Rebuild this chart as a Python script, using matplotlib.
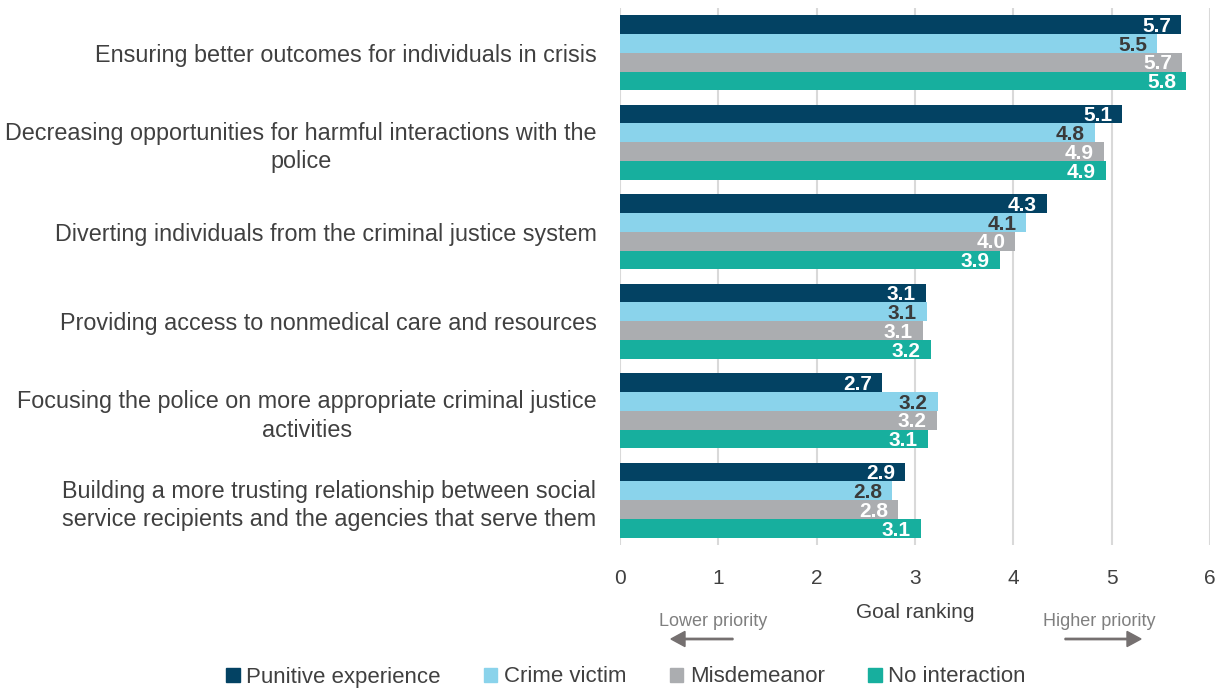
import numpy as np
import matplotlib
matplotlib.use("Agg")
import matplotlib.pyplot as plt
from matplotlib.patches import Patch

plt.rcParams['font.family'] = ['Liberation Sans', 'DejaVu Sans']

categories = [
    "Ensuring better outcomes for individuals in crisis",
    "Decreasing opportunities for harmful interactions with the\npolice",
    "Diverting individuals from the criminal justice system",
    "Providing access to nonmedical care and resources",
    "Focusing the police on more appropriate criminal justice\nactivities",
    "Building a more trusting relationship between social\nservice recipients and the agencies that serve them",
]
series = ["Punitive experience", "Crime victim", "Misdemeanor", "No interaction"]
punitive = [5.71, 5.11, 4.34, 3.11, 2.66, 2.90]
crime_victim = [5.46, 4.83, 4.13, 3.12, 3.23, 2.77]
misdemeanor = [5.72, 4.92, 4.02, 3.08, 3.22, 2.83]
no_interaction = [5.76, 4.94, 3.86, 3.16, 3.13, 3.06]

values = [punitive, crime_victim, misdemeanor, no_interaction]
colors = ["#034263", "#8AD3EB", "#ABADB0", "#17AF9E"]
label_colors = ["white", "#3a3a3a", "white", "white"]

fig = plt.figure(figsize=(12.21, 6.89), dpi=100)
ax = fig.add_axes([620 / 1221, 1 - 545 / 689, 590 / 1221, 537 / 689])

bar_h = 0.2095
y = np.arange(len(categories))
for i, (vals, col) in enumerate(zip(values, colors)):
    pos = y + (i - 1.5) * bar_h
    ax.barh(pos, vals, height=bar_h, color=col, zorder=3)
    for p, v in zip(pos, vals):
        ax.text(v - 0.1, p + 0.02, f"{v:.1f}", ha='right', va='center',
                color=label_colors[i], fontsize=15, fontweight='bold', zorder=4)

ax.set_ylim(len(categories) - 0.5, -0.5)
ax.set_xlim(0, 6)
ax.set_xticks(range(7))
ax.set_yticks(y)
ax.set_yticklabels(categories, fontsize=16.8, color="#404040",
                   multialignment='center', linespacing=1.3)
ax.tick_params(axis='y', length=0, pad=17)
ax.tick_params(axis='x', length=0, pad=17, labelsize=15, labelcolor="#404040")
ax.grid(axis='x', color="#D9D9D9", linewidth=1.5, zorder=0)
for s in ax.spines.values():
    s.set_visible(False)

ax.set_xlabel("Goal ranking", fontsize=15, color="#404040", labelpad=11)

fig.text(713 / 1221, 1 - 622 / 689, "Lower priority", ha='center', va='center',
         fontsize=13, color="#7f7f7f")
fig.text(1099 / 1221, 1 - 622 / 689, "Higher priority", ha='center', va='center',
         fontsize=13, color="#7f7f7f")
fig.patches.append(matplotlib.patches.FancyArrow(
    733 / 1221, 1 - 639 / 689, -62 / 1221, 0, width=0.002, head_width=0.022,
    head_length=14 / 1221, length_includes_head=True, color="#757070",
    transform=fig.transFigure))
fig.patches.append(matplotlib.patches.FancyArrow(
    1065 / 1221, 1 - 639 / 689, 76 / 1221, 0, width=0.002, head_width=0.022,
    head_length=14 / 1221, length_includes_head=True, color="#757070",
    transform=fig.transFigure))

handles = [Patch(color=c) for c in colors]
fig.legend(handles, series, loc='center', bbox_to_anchor=(626 / 1221, 1 - 677 / 689),
           ncol=4, frameon=False, fontsize=16, handlelength=0.6, handleheight=0.6,
           handletextpad=0.3, columnspacing=1.95, labelcolor="#404040")

fig.savefig("out.png", dpi=100)
